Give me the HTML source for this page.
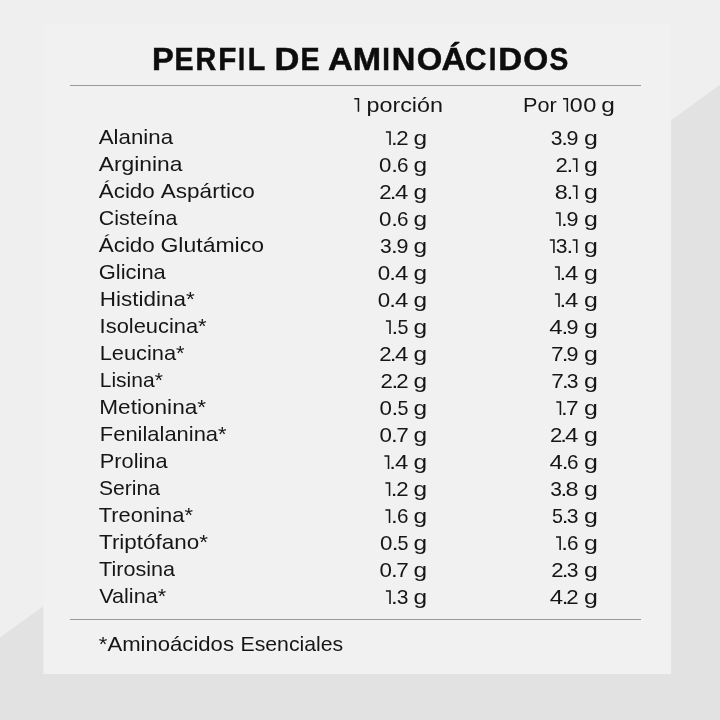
<!DOCTYPE html>
<html><head><meta charset="utf-8"><style>
html,body{margin:0;padding:0;width:720px;height:720px;overflow:hidden;background:#efefef}
svg{display:block;will-change:transform}
text{font-family:"Liberation Sans",sans-serif;white-space:pre}
</style></head><body>
<svg width="720" height="720" viewBox="0 0 720 720">
<rect x="0" y="0" width="720" height="720" fill="#efefef"/>
<polygon points="0,637.4 120,551.0 120,720 0,720" fill="#e2e2e2"/>
<polygon points="600,172.1 720,84.7 720,720 600,720" fill="#e2e2e2"/>
<rect x="0" y="673.5" width="720" height="46.5" fill="#e2e2e2"/>
<rect x="43.3" y="24" width="627.9" height="650" fill="#f1f1f1"/>
<rect x="70" y="85" width="571" height="1" fill="#999999"/>
<rect x="70" y="619" width="571" height="1" fill="#999999"/>
<text x="151.93" y="69.65" font-size="30.7" font-weight="bold" stroke="#0d0d0d" stroke-width="0.5" fill="#0d0d0d" textLength="21.77" lengthAdjust="spacingAndGlyphs">P</text>
<text x="174.39" y="69.65" font-size="30.7" font-weight="bold" stroke="#0d0d0d" stroke-width="0.5" fill="#0d0d0d" textLength="19.12" lengthAdjust="spacingAndGlyphs">E</text>
<text x="195.49" y="69.65" font-size="30.7" font-weight="bold" stroke="#0d0d0d" stroke-width="0.5" fill="#0d0d0d" textLength="20.70" lengthAdjust="spacingAndGlyphs">R</text>
<text x="218.33" y="69.65" font-size="30.7" font-weight="bold" stroke="#0d0d0d" stroke-width="0.5" fill="#0d0d0d" textLength="18.09" lengthAdjust="spacingAndGlyphs">F</text>
<text x="237.99" y="69.65" font-size="30.7" font-weight="bold" stroke="#0d0d0d" stroke-width="0.5" fill="#0d0d0d" textLength="7.09" lengthAdjust="spacingAndGlyphs">I</text>
<text x="247.78" y="69.65" font-size="30.7" font-weight="bold" stroke="#0d0d0d" stroke-width="0.5" fill="#0d0d0d" textLength="17.55" lengthAdjust="spacingAndGlyphs">L</text>
<text x="274.51" y="69.65" font-size="30.7" font-weight="bold" stroke="#0d0d0d" stroke-width="0.5" fill="#0d0d0d" textLength="24.89" lengthAdjust="spacingAndGlyphs">D</text>
<text x="300.39" y="69.65" font-size="30.7" font-weight="bold" stroke="#0d0d0d" stroke-width="0.5" fill="#0d0d0d" textLength="19.12" lengthAdjust="spacingAndGlyphs">E</text>
<text x="327.99" y="69.65" font-size="30.7" font-weight="bold" stroke="#0d0d0d" stroke-width="0.5" fill="#0d0d0d" textLength="24.79" lengthAdjust="spacingAndGlyphs">A</text>
<text x="352.74" y="69.65" font-size="30.7" font-weight="bold" stroke="#0d0d0d" stroke-width="0.5" fill="#0d0d0d" textLength="28.32" lengthAdjust="spacingAndGlyphs">M</text>
<text x="382.36" y="69.65" font-size="30.7" font-weight="bold" stroke="#0d0d0d" stroke-width="0.5" fill="#0d0d0d" textLength="7.66" lengthAdjust="spacingAndGlyphs">I</text>
<text x="391.72" y="69.65" font-size="30.7" font-weight="bold" stroke="#0d0d0d" stroke-width="0.5" fill="#0d0d0d" textLength="23.62" lengthAdjust="spacingAndGlyphs">N</text>
<text x="416.84" y="69.65" font-size="30.7" font-weight="bold" stroke="#0d0d0d" stroke-width="0.5" fill="#0d0d0d" textLength="25.52" lengthAdjust="spacingAndGlyphs">O</text>
<text x="441.41" y="69.65" font-size="30.7" font-weight="bold" stroke="#0d0d0d" stroke-width="0.5" fill="#0d0d0d" textLength="24.25" lengthAdjust="spacingAndGlyphs">Á</text>
<text x="465.06" y="69.65" font-size="30.7" font-weight="bold" stroke="#0d0d0d" stroke-width="0.5" fill="#0d0d0d" textLength="21.50" lengthAdjust="spacingAndGlyphs">C</text>
<text x="488.86" y="69.65" font-size="30.7" font-weight="bold" stroke="#0d0d0d" stroke-width="0.5" fill="#0d0d0d" textLength="7.66" lengthAdjust="spacingAndGlyphs">I</text>
<text x="498.19" y="69.65" font-size="30.7" font-weight="bold" stroke="#0d0d0d" stroke-width="0.5" fill="#0d0d0d" textLength="23.95" lengthAdjust="spacingAndGlyphs">D</text>
<text x="523.37" y="69.65" font-size="30.7" font-weight="bold" stroke="#0d0d0d" stroke-width="0.5" fill="#0d0d0d" textLength="24.96" lengthAdjust="spacingAndGlyphs">O</text>
<text x="549.40" y="69.65" font-size="30.7" font-weight="bold" stroke="#0d0d0d" stroke-width="0.5" fill="#0d0d0d" textLength="18.79" lengthAdjust="spacingAndGlyphs">S</text>
<path d="M354.30 98.10H359.20V111.80H357.65V99.55H354.30Z" fill="#161616"/>
<text x="366.48" y="112.00" font-size="19.75" fill="#161616" textLength="76.53" lengthAdjust="spacingAndGlyphs">porción</text>
<text x="522.97" y="112.00" font-size="19.75" fill="#161616" textLength="33.68" lengthAdjust="spacingAndGlyphs">Por</text>
<path d="M563.00 98.10H568.10V111.80H566.55V99.55H563.00Z" fill="#161616"/>
<text x="569.87" y="111.80" font-size="19.75" fill="#161616" textLength="12.88" lengthAdjust="spacingAndGlyphs">0</text>
<text x="583.36" y="111.80" font-size="19.75" fill="#161616" textLength="13.11" lengthAdjust="spacingAndGlyphs">0</text>
<text x="601.22" y="112.00" font-size="19.75" fill="#161616" textLength="13.59" lengthAdjust="spacingAndGlyphs">g</text>
<text x="98.79" y="144.00" font-size="19.75" fill="#161616" textLength="74.23" lengthAdjust="spacingAndGlyphs">Alanina</text>
<path d="M385.90 131.30H390.80V145.00H389.25V132.75H385.90Z" fill="#161616"/>
<text x="391.00" y="145.00" font-size="19.75" fill="#161616" textLength="6.73" lengthAdjust="spacingAndGlyphs">.</text>
<text x="396.39" y="145.00" font-size="19.75" fill="#161616" textLength="12.35" lengthAdjust="spacingAndGlyphs">2</text>
<text x="413.62" y="145.00" font-size="19.75" fill="#161616" textLength="13.59" lengthAdjust="spacingAndGlyphs">g</text>
<text x="550.76" y="145.00" font-size="19.75" fill="#161616" textLength="11.71" lengthAdjust="spacingAndGlyphs">3</text>
<text x="561.32" y="145.00" font-size="19.75" fill="#161616" textLength="6.73" lengthAdjust="spacingAndGlyphs">.</text>
<text x="566.53" y="145.00" font-size="19.75" fill="#161616" textLength="11.96" lengthAdjust="spacingAndGlyphs">9</text>
<text x="584.00" y="145.00" font-size="19.75" fill="#161616" textLength="13.84" lengthAdjust="spacingAndGlyphs">g</text>
<text x="98.79" y="171.00" font-size="19.75" fill="#161616" textLength="83.69" lengthAdjust="spacingAndGlyphs">Arginina</text>
<text x="379.01" y="172.00" font-size="19.75" fill="#161616" textLength="12.41" lengthAdjust="spacingAndGlyphs">0</text>
<text x="391.19" y="172.00" font-size="19.75" fill="#161616" textLength="6.73" lengthAdjust="spacingAndGlyphs">.</text>
<text x="397.07" y="172.00" font-size="19.75" fill="#161616" textLength="11.49" lengthAdjust="spacingAndGlyphs">6</text>
<text x="413.62" y="172.00" font-size="19.75" fill="#161616" textLength="13.59" lengthAdjust="spacingAndGlyphs">g</text>
<text x="555.59" y="172.00" font-size="19.75" fill="#161616" textLength="12.35" lengthAdjust="spacingAndGlyphs">2</text>
<text x="566.51" y="172.00" font-size="19.75" fill="#161616" textLength="6.73" lengthAdjust="spacingAndGlyphs">.</text>
<path d="M572.60 158.30H577.50V172.00H575.95V159.75H572.60Z" fill="#161616"/>
<text x="584.00" y="172.00" font-size="19.75" fill="#161616" textLength="13.84" lengthAdjust="spacingAndGlyphs">g</text>
<text x="98.69" y="198.00" font-size="19.75" fill="#161616" textLength="56.14" lengthAdjust="spacingAndGlyphs">Ácido</text>
<text x="160.79" y="198.00" font-size="19.75" fill="#161616" textLength="93.94" lengthAdjust="spacingAndGlyphs">Aspártico</text>
<text x="379.39" y="199.00" font-size="19.75" fill="#161616" textLength="12.35" lengthAdjust="spacingAndGlyphs">2</text>
<text x="389.88" y="199.00" font-size="19.75" fill="#161616" textLength="6.73" lengthAdjust="spacingAndGlyphs">.</text>
<text x="395.00" y="199.00" font-size="19.75" fill="#161616" textLength="13.35" lengthAdjust="spacingAndGlyphs">4</text>
<text x="413.62" y="199.00" font-size="19.75" fill="#161616" textLength="13.59" lengthAdjust="spacingAndGlyphs">g</text>
<text x="554.75" y="199.00" font-size="19.75" fill="#161616" textLength="13.02" lengthAdjust="spacingAndGlyphs">8</text>
<text x="566.51" y="199.00" font-size="19.75" fill="#161616" textLength="6.73" lengthAdjust="spacingAndGlyphs">.</text>
<path d="M572.60 185.30H577.50V199.00H575.95V186.75H572.60Z" fill="#161616"/>
<text x="584.00" y="199.00" font-size="19.75" fill="#161616" textLength="13.84" lengthAdjust="spacingAndGlyphs">g</text>
<text x="98.83" y="225.00" font-size="19.75" fill="#161616" textLength="78.44" lengthAdjust="spacingAndGlyphs">Cisteína</text>
<text x="379.01" y="226.00" font-size="19.75" fill="#161616" textLength="12.41" lengthAdjust="spacingAndGlyphs">0</text>
<text x="391.19" y="226.00" font-size="19.75" fill="#161616" textLength="6.73" lengthAdjust="spacingAndGlyphs">.</text>
<text x="397.07" y="226.00" font-size="19.75" fill="#161616" textLength="11.49" lengthAdjust="spacingAndGlyphs">6</text>
<text x="413.62" y="226.00" font-size="19.75" fill="#161616" textLength="13.59" lengthAdjust="spacingAndGlyphs">g</text>
<path d="M555.80 212.30H560.70V226.00H559.15V213.75H555.80Z" fill="#161616"/>
<text x="560.95" y="226.00" font-size="19.75" fill="#161616" textLength="6.73" lengthAdjust="spacingAndGlyphs">.</text>
<text x="566.53" y="226.00" font-size="19.75" fill="#161616" textLength="11.96" lengthAdjust="spacingAndGlyphs">9</text>
<text x="584.00" y="226.00" font-size="19.75" fill="#161616" textLength="13.84" lengthAdjust="spacingAndGlyphs">g</text>
<text x="98.69" y="252.00" font-size="19.75" fill="#161616" textLength="56.14" lengthAdjust="spacingAndGlyphs">Ácido</text>
<text x="160.45" y="252.00" font-size="19.75" fill="#161616" textLength="103.61" lengthAdjust="spacingAndGlyphs">Glutámico</text>
<text x="379.96" y="253.00" font-size="19.75" fill="#161616" textLength="11.71" lengthAdjust="spacingAndGlyphs">3</text>
<text x="391.01" y="253.00" font-size="19.75" fill="#161616" textLength="6.73" lengthAdjust="spacingAndGlyphs">.</text>
<text x="396.63" y="253.00" font-size="19.75" fill="#161616" textLength="11.96" lengthAdjust="spacingAndGlyphs">9</text>
<text x="413.62" y="253.00" font-size="19.75" fill="#161616" textLength="13.59" lengthAdjust="spacingAndGlyphs">g</text>
<path d="M549.80 239.30H554.70V253.00H553.15V240.75H549.80Z" fill="#161616"/>
<text x="555.86" y="253.00" font-size="19.75" fill="#161616" textLength="11.71" lengthAdjust="spacingAndGlyphs">3</text>
<text x="566.42" y="253.00" font-size="19.75" fill="#161616" textLength="6.73" lengthAdjust="spacingAndGlyphs">.</text>
<path d="M572.60 239.30H577.50V253.00H575.95V240.75H572.60Z" fill="#161616"/>
<text x="584.00" y="253.00" font-size="19.75" fill="#161616" textLength="13.84" lengthAdjust="spacingAndGlyphs">g</text>
<text x="98.80" y="279.00" font-size="19.75" fill="#161616" textLength="66.98" lengthAdjust="spacingAndGlyphs">Glicina</text>
<text x="377.81" y="280.00" font-size="19.75" fill="#161616" textLength="12.41" lengthAdjust="spacingAndGlyphs">0</text>
<text x="389.28" y="280.00" font-size="19.75" fill="#161616" textLength="6.73" lengthAdjust="spacingAndGlyphs">.</text>
<text x="395.00" y="280.00" font-size="19.75" fill="#161616" textLength="13.35" lengthAdjust="spacingAndGlyphs">4</text>
<text x="413.62" y="280.00" font-size="19.75" fill="#161616" textLength="13.59" lengthAdjust="spacingAndGlyphs">g</text>
<path d="M554.90 266.30H559.80V280.00H558.25V267.75H554.90Z" fill="#161616"/>
<text x="559.46" y="280.00" font-size="19.75" fill="#161616" textLength="6.73" lengthAdjust="spacingAndGlyphs">.</text>
<text x="564.90" y="280.00" font-size="19.75" fill="#161616" textLength="13.35" lengthAdjust="spacingAndGlyphs">4</text>
<text x="584.00" y="280.00" font-size="19.75" fill="#161616" textLength="13.84" lengthAdjust="spacingAndGlyphs">g</text>
<text x="99.80" y="306.00" font-size="19.75" fill="#161616" textLength="94.88" lengthAdjust="spacingAndGlyphs">Histidina*</text>
<text x="377.81" y="307.00" font-size="19.75" fill="#161616" textLength="12.41" lengthAdjust="spacingAndGlyphs">0</text>
<text x="389.28" y="307.00" font-size="19.75" fill="#161616" textLength="6.73" lengthAdjust="spacingAndGlyphs">.</text>
<text x="395.00" y="307.00" font-size="19.75" fill="#161616" textLength="13.35" lengthAdjust="spacingAndGlyphs">4</text>
<text x="413.62" y="307.00" font-size="19.75" fill="#161616" textLength="13.59" lengthAdjust="spacingAndGlyphs">g</text>
<path d="M554.90 293.30H559.80V307.00H558.25V294.75H554.90Z" fill="#161616"/>
<text x="559.46" y="307.00" font-size="19.75" fill="#161616" textLength="6.73" lengthAdjust="spacingAndGlyphs">.</text>
<text x="564.90" y="307.00" font-size="19.75" fill="#161616" textLength="13.35" lengthAdjust="spacingAndGlyphs">4</text>
<text x="584.00" y="307.00" font-size="19.75" fill="#161616" textLength="13.84" lengthAdjust="spacingAndGlyphs">g</text>
<text x="99.63" y="333.00" font-size="19.75" fill="#161616" textLength="106.99" lengthAdjust="spacingAndGlyphs">Isoleucina*</text>
<path d="M385.90 320.30H390.80V334.00H389.25V321.75H385.90Z" fill="#161616"/>
<text x="391.40" y="334.00" font-size="19.75" fill="#161616" textLength="6.73" lengthAdjust="spacingAndGlyphs">.</text>
<text x="397.46" y="334.00" font-size="19.75" fill="#161616" textLength="10.95" lengthAdjust="spacingAndGlyphs">5</text>
<text x="413.62" y="334.00" font-size="19.75" fill="#161616" textLength="13.59" lengthAdjust="spacingAndGlyphs">g</text>
<text x="549.20" y="334.00" font-size="19.75" fill="#161616" textLength="13.35" lengthAdjust="spacingAndGlyphs">4</text>
<text x="561.46" y="334.00" font-size="19.75" fill="#161616" textLength="6.73" lengthAdjust="spacingAndGlyphs">.</text>
<text x="566.53" y="334.00" font-size="19.75" fill="#161616" textLength="11.96" lengthAdjust="spacingAndGlyphs">9</text>
<text x="584.00" y="334.00" font-size="19.75" fill="#161616" textLength="13.84" lengthAdjust="spacingAndGlyphs">g</text>
<text x="99.65" y="360.00" font-size="19.75" fill="#161616" textLength="84.97" lengthAdjust="spacingAndGlyphs">Leucina*</text>
<text x="379.39" y="361.00" font-size="19.75" fill="#161616" textLength="12.35" lengthAdjust="spacingAndGlyphs">2</text>
<text x="389.88" y="361.00" font-size="19.75" fill="#161616" textLength="6.73" lengthAdjust="spacingAndGlyphs">.</text>
<text x="395.00" y="361.00" font-size="19.75" fill="#161616" textLength="13.35" lengthAdjust="spacingAndGlyphs">4</text>
<text x="413.62" y="361.00" font-size="19.75" fill="#161616" textLength="13.59" lengthAdjust="spacingAndGlyphs">g</text>
<text x="550.97" y="361.00" font-size="19.75" fill="#161616" textLength="12.53" lengthAdjust="spacingAndGlyphs">7</text>
<text x="561.71" y="361.00" font-size="19.75" fill="#161616" textLength="6.73" lengthAdjust="spacingAndGlyphs">.</text>
<text x="566.53" y="361.00" font-size="19.75" fill="#161616" textLength="11.96" lengthAdjust="spacingAndGlyphs">9</text>
<text x="584.00" y="361.00" font-size="19.75" fill="#161616" textLength="13.84" lengthAdjust="spacingAndGlyphs">g</text>
<text x="99.72" y="387.00" font-size="19.75" fill="#161616" textLength="63.14" lengthAdjust="spacingAndGlyphs">Lisina*</text>
<text x="380.59" y="388.00" font-size="19.75" fill="#161616" textLength="12.35" lengthAdjust="spacingAndGlyphs">2</text>
<text x="391.46" y="388.00" font-size="19.75" fill="#161616" textLength="6.73" lengthAdjust="spacingAndGlyphs">.</text>
<text x="396.39" y="388.00" font-size="19.75" fill="#161616" textLength="12.35" lengthAdjust="spacingAndGlyphs">2</text>
<text x="413.62" y="388.00" font-size="19.75" fill="#161616" textLength="13.59" lengthAdjust="spacingAndGlyphs">g</text>
<text x="551.37" y="388.00" font-size="19.75" fill="#161616" textLength="12.53" lengthAdjust="spacingAndGlyphs">7</text>
<text x="561.95" y="388.00" font-size="19.75" fill="#161616" textLength="6.73" lengthAdjust="spacingAndGlyphs">.</text>
<text x="566.76" y="388.00" font-size="19.75" fill="#161616" textLength="11.71" lengthAdjust="spacingAndGlyphs">3</text>
<text x="584.00" y="388.00" font-size="19.75" fill="#161616" textLength="13.84" lengthAdjust="spacingAndGlyphs">g</text>
<text x="99.29" y="414.00" font-size="19.75" fill="#161616" textLength="106.80" lengthAdjust="spacingAndGlyphs">Metionina*</text>
<text x="379.61" y="415.00" font-size="19.75" fill="#161616" textLength="12.41" lengthAdjust="spacingAndGlyphs">0</text>
<text x="391.54" y="415.00" font-size="19.75" fill="#161616" textLength="6.73" lengthAdjust="spacingAndGlyphs">.</text>
<text x="397.46" y="415.00" font-size="19.75" fill="#161616" textLength="10.95" lengthAdjust="spacingAndGlyphs">5</text>
<text x="413.62" y="415.00" font-size="19.75" fill="#161616" textLength="13.59" lengthAdjust="spacingAndGlyphs">g</text>
<path d="M556.30 401.30H561.20V415.00H559.65V402.75H556.30Z" fill="#161616"/>
<text x="561.05" y="415.00" font-size="19.75" fill="#161616" textLength="6.73" lengthAdjust="spacingAndGlyphs">.</text>
<text x="566.12" y="415.00" font-size="19.75" fill="#161616" textLength="12.53" lengthAdjust="spacingAndGlyphs">7</text>
<text x="584.00" y="415.00" font-size="19.75" fill="#161616" textLength="13.84" lengthAdjust="spacingAndGlyphs">g</text>
<text x="99.85" y="441.00" font-size="19.75" fill="#161616" textLength="126.77" lengthAdjust="spacingAndGlyphs">Fenilalanina*</text>
<text x="379.61" y="442.00" font-size="19.75" fill="#161616" textLength="12.41" lengthAdjust="spacingAndGlyphs">0</text>
<text x="391.06" y="442.00" font-size="19.75" fill="#161616" textLength="6.73" lengthAdjust="spacingAndGlyphs">.</text>
<text x="396.22" y="442.00" font-size="19.75" fill="#161616" textLength="12.53" lengthAdjust="spacingAndGlyphs">7</text>
<text x="413.62" y="442.00" font-size="19.75" fill="#161616" textLength="13.59" lengthAdjust="spacingAndGlyphs">g</text>
<text x="550.09" y="442.00" font-size="19.75" fill="#161616" textLength="12.35" lengthAdjust="spacingAndGlyphs">2</text>
<text x="560.15" y="442.00" font-size="19.75" fill="#161616" textLength="6.73" lengthAdjust="spacingAndGlyphs">.</text>
<text x="564.90" y="442.00" font-size="19.75" fill="#161616" textLength="13.35" lengthAdjust="spacingAndGlyphs">4</text>
<text x="584.00" y="442.00" font-size="19.75" fill="#161616" textLength="13.84" lengthAdjust="spacingAndGlyphs">g</text>
<text x="99.86" y="468.00" font-size="19.75" fill="#161616" textLength="67.70" lengthAdjust="spacingAndGlyphs">Prolina</text>
<path d="M384.40 455.30H389.30V469.00H387.75V456.75H384.40Z" fill="#161616"/>
<text x="389.28" y="469.00" font-size="19.75" fill="#161616" textLength="6.73" lengthAdjust="spacingAndGlyphs">.</text>
<text x="395.00" y="469.00" font-size="19.75" fill="#161616" textLength="13.35" lengthAdjust="spacingAndGlyphs">4</text>
<text x="413.62" y="469.00" font-size="19.75" fill="#161616" textLength="13.59" lengthAdjust="spacingAndGlyphs">g</text>
<text x="549.40" y="469.00" font-size="19.75" fill="#161616" textLength="13.35" lengthAdjust="spacingAndGlyphs">4</text>
<text x="561.82" y="469.00" font-size="19.75" fill="#161616" textLength="6.73" lengthAdjust="spacingAndGlyphs">.</text>
<text x="566.97" y="469.00" font-size="19.75" fill="#161616" textLength="11.49" lengthAdjust="spacingAndGlyphs">6</text>
<text x="584.00" y="469.00" font-size="19.75" fill="#161616" textLength="13.84" lengthAdjust="spacingAndGlyphs">g</text>
<text x="99.05" y="495.00" font-size="19.75" fill="#161616" textLength="60.96" lengthAdjust="spacingAndGlyphs">Serina</text>
<path d="M385.40 482.30H390.30V496.00H388.75V483.75H385.40Z" fill="#161616"/>
<text x="390.77" y="496.00" font-size="19.75" fill="#161616" textLength="6.73" lengthAdjust="spacingAndGlyphs">.</text>
<text x="396.39" y="496.00" font-size="19.75" fill="#161616" textLength="12.35" lengthAdjust="spacingAndGlyphs">2</text>
<text x="413.62" y="496.00" font-size="19.75" fill="#161616" textLength="13.59" lengthAdjust="spacingAndGlyphs">g</text>
<text x="550.16" y="496.00" font-size="19.75" fill="#161616" textLength="11.71" lengthAdjust="spacingAndGlyphs">3</text>
<text x="560.50" y="496.00" font-size="19.75" fill="#161616" textLength="6.73" lengthAdjust="spacingAndGlyphs">.</text>
<text x="565.45" y="496.00" font-size="19.75" fill="#161616" textLength="13.02" lengthAdjust="spacingAndGlyphs">8</text>
<text x="584.00" y="496.00" font-size="19.75" fill="#161616" textLength="13.84" lengthAdjust="spacingAndGlyphs">g</text>
<text x="98.75" y="522.00" font-size="19.75" fill="#161616" textLength="94.16" lengthAdjust="spacingAndGlyphs">Treonina*</text>
<path d="M385.40 509.30H390.30V523.00H388.75V510.75H385.40Z" fill="#161616"/>
<text x="391.09" y="523.00" font-size="19.75" fill="#161616" textLength="6.73" lengthAdjust="spacingAndGlyphs">.</text>
<text x="397.07" y="523.00" font-size="19.75" fill="#161616" textLength="11.49" lengthAdjust="spacingAndGlyphs">6</text>
<text x="413.62" y="523.00" font-size="19.75" fill="#161616" textLength="13.59" lengthAdjust="spacingAndGlyphs">g</text>
<text x="552.01" y="523.00" font-size="19.75" fill="#161616" textLength="10.95" lengthAdjust="spacingAndGlyphs">5</text>
<text x="561.67" y="523.00" font-size="19.75" fill="#161616" textLength="6.73" lengthAdjust="spacingAndGlyphs">.</text>
<text x="566.76" y="523.00" font-size="19.75" fill="#161616" textLength="11.71" lengthAdjust="spacingAndGlyphs">3</text>
<text x="584.00" y="523.00" font-size="19.75" fill="#161616" textLength="13.84" lengthAdjust="spacingAndGlyphs">g</text>
<text x="99.04" y="549.00" font-size="19.75" fill="#161616" textLength="108.90" lengthAdjust="spacingAndGlyphs">Triptófano*</text>
<text x="380.01" y="550.00" font-size="19.75" fill="#161616" textLength="12.41" lengthAdjust="spacingAndGlyphs">0</text>
<text x="391.73" y="550.00" font-size="19.75" fill="#161616" textLength="6.73" lengthAdjust="spacingAndGlyphs">.</text>
<text x="397.46" y="550.00" font-size="19.75" fill="#161616" textLength="10.95" lengthAdjust="spacingAndGlyphs">5</text>
<text x="413.62" y="550.00" font-size="19.75" fill="#161616" textLength="13.59" lengthAdjust="spacingAndGlyphs">g</text>
<path d="M556.00 536.30H560.90V550.00H559.35V537.75H556.00Z" fill="#161616"/>
<text x="561.32" y="550.00" font-size="19.75" fill="#161616" textLength="6.73" lengthAdjust="spacingAndGlyphs">.</text>
<text x="566.97" y="550.00" font-size="19.75" fill="#161616" textLength="11.49" lengthAdjust="spacingAndGlyphs">6</text>
<text x="584.00" y="550.00" font-size="19.75" fill="#161616" textLength="13.84" lengthAdjust="spacingAndGlyphs">g</text>
<text x="99.06" y="576.00" font-size="19.75" fill="#161616" textLength="75.93" lengthAdjust="spacingAndGlyphs">Tirosina</text>
<text x="379.41" y="577.00" font-size="19.75" fill="#161616" textLength="12.41" lengthAdjust="spacingAndGlyphs">0</text>
<text x="390.96" y="577.00" font-size="19.75" fill="#161616" textLength="6.73" lengthAdjust="spacingAndGlyphs">.</text>
<text x="396.22" y="577.00" font-size="19.75" fill="#161616" textLength="12.53" lengthAdjust="spacingAndGlyphs">7</text>
<text x="413.62" y="577.00" font-size="19.75" fill="#161616" textLength="13.59" lengthAdjust="spacingAndGlyphs">g</text>
<text x="551.19" y="577.00" font-size="19.75" fill="#161616" textLength="12.35" lengthAdjust="spacingAndGlyphs">2</text>
<text x="561.79" y="577.00" font-size="19.75" fill="#161616" textLength="6.73" lengthAdjust="spacingAndGlyphs">.</text>
<text x="566.76" y="577.00" font-size="19.75" fill="#161616" textLength="11.71" lengthAdjust="spacingAndGlyphs">3</text>
<text x="584.00" y="577.00" font-size="19.75" fill="#161616" textLength="13.84" lengthAdjust="spacingAndGlyphs">g</text>
<text x="99.19" y="603.00" font-size="19.75" fill="#161616" textLength="66.99" lengthAdjust="spacingAndGlyphs">Valina*</text>
<path d="M385.90 590.30H390.80V604.00H389.25V591.75H385.90Z" fill="#161616"/>
<text x="391.11" y="604.00" font-size="19.75" fill="#161616" textLength="6.73" lengthAdjust="spacingAndGlyphs">.</text>
<text x="396.86" y="604.00" font-size="19.75" fill="#161616" textLength="11.71" lengthAdjust="spacingAndGlyphs">3</text>
<text x="413.62" y="604.00" font-size="19.75" fill="#161616" textLength="13.59" lengthAdjust="spacingAndGlyphs">g</text>
<text x="549.80" y="604.00" font-size="19.75" fill="#161616" textLength="13.35" lengthAdjust="spacingAndGlyphs">4</text>
<text x="561.68" y="604.00" font-size="19.75" fill="#161616" textLength="6.73" lengthAdjust="spacingAndGlyphs">.</text>
<text x="566.29" y="604.00" font-size="19.75" fill="#161616" textLength="12.35" lengthAdjust="spacingAndGlyphs">2</text>
<text x="584.00" y="604.00" font-size="19.75" fill="#161616" textLength="13.84" lengthAdjust="spacingAndGlyphs">g</text>
<text x="98.87" y="651.00" font-size="19.75" fill="#161616" textLength="135.10" lengthAdjust="spacingAndGlyphs">*Aminoácidos</text>
<text x="240.50" y="651.00" font-size="19.75" fill="#161616" textLength="102.66" lengthAdjust="spacingAndGlyphs">Esenciales</text>
</svg>
</body></html>
